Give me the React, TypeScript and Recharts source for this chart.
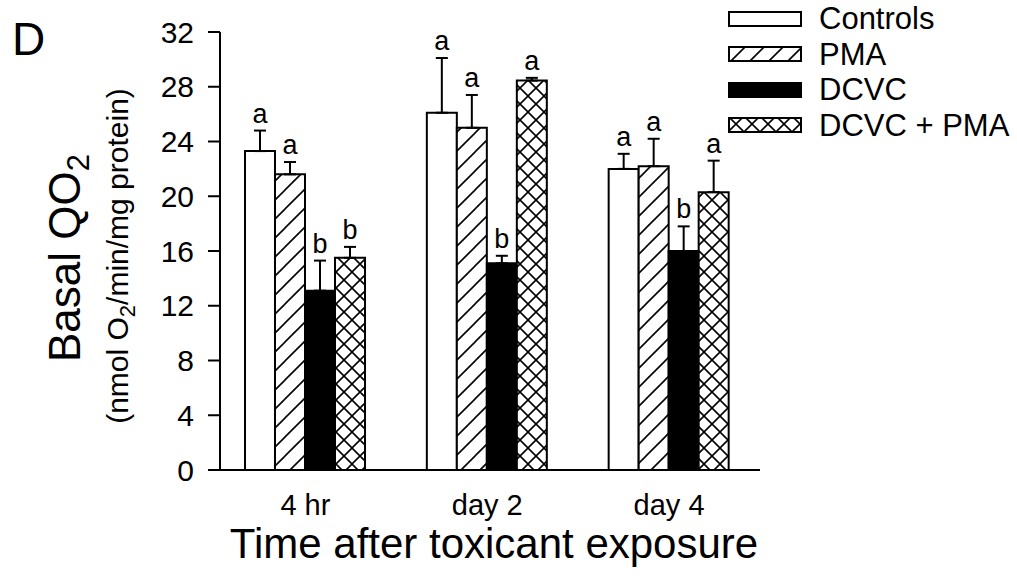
import { BarChart, Bar, XAxis, YAxis, ErrorBar, LabelList, Legend } from 'recharts';

const FONT = '"Liberation Sans", Arial, sans-serif';

const categories = ['4 hr', 'day 2', 'day 4'];
const yTicks = [0, 4, 8, 12, 16, 20, 24, 28, 32];

const controls = [23.3, 26.1, 22.0];
const controlsErr = [1.5, 4.0, 1.1];
const controlsLetters = ['a', 'a', 'a'];

const pma = [21.6, 25.0, 22.2];
const pmaErr = [0.9, 2.4, 2.0];
const pmaLetters = ['a', 'a', 'a'];

const dcvc = [13.1, 15.1, 16.0];
const dcvcErr = [2.2, 0.55, 1.8];
const dcvcLetters = ['b', 'b', 'b'];

const dcvcPma = [15.5, 28.45, 20.3];
const dcvcPmaErr = [0.8, 0.2, 2.3];
const dcvcPmaLetters = ['b', 'a', 'a'];

const series = [
  { key: 'controls', name: 'Controls', fill: '#ffffff', values: controls, errors: controlsErr, letters: controlsLetters },
  { key: 'pma', name: 'PMA', fill: 'url(#hatch)', values: pma, errors: pmaErr, letters: pmaLetters },
  { key: 'dcvc', name: 'DCVC', fill: '#000000', values: dcvc, errors: dcvcErr, letters: dcvcLetters },
  { key: 'dcvcPma', name: 'DCVC + PMA', fill: 'url(#cross)', values: dcvcPma, errors: dcvcPmaErr, letters: dcvcPmaLetters },
];

const data = categories.map((time, i) => {
  const row: Record<string, string | number> = { time };
  series.forEach((s) => {
    row[s.key] = s.values[i];
    row[s.key + 'Err'] = s.errors[i];
  });
  return row;
});

function LegendBox() {
  return (
    <div style={{ fontFamily: FONT, color: '#000' }}>
      {series.map((s) => (
        <div key={s.key} style={{ display: 'flex', alignItems: 'center', height: 35.5 }}>
          <svg width={76} height={18}>
            <rect x={1} y={2} width={72} height={14} fill={s.fill} stroke="#000" strokeWidth={2} />
          </svg>
          <span style={{ marginLeft: 15, fontSize: 31, lineHeight: '35px' }}>{s.name}</span>
        </div>
      ))}
    </div>
  );
}

function YTitle() {
  return (
    <g fontFamily={FONT} fill="#000">
      <text x={12} y={55} fontSize={46}>D</text>
      <text x={80} y={258} fontSize={44} textAnchor="middle" transform="rotate(-90, 80, 258)">
        Basal QO<tspan fontSize={31} dy={9}>2</tspan>
      </text>
      <text x={128} y={256} fontSize={30} textAnchor="middle" transform="rotate(-90, 128, 256)">
        (nmol O<tspan fontSize={22} dy={7}>2</tspan>
        <tspan dy={-7}>/min/mg protein)</tspan>
      </text>
    </g>
  );
}

function XTitle(props: any) {
  const vb = props.viewBox || {};
  return (
    <text x={vb.x + vb.width / 2 + 4} y={vb.y + 88} fontSize={42} fontFamily={FONT} textAnchor="middle" fill="#000">
      Time after toxicant exposure
    </text>
  );
}

function makeLetter(s: (typeof series)[number]) {
  return (props: any) => {
    const vb = props.viewBox || {};
    const x = props.x ?? vb.x;
    const y = props.y ?? vb.y;
    const width = props.width ?? vb.width;
    const height = props.height ?? vb.height;
    const i = props.index;
    const v = s.values[i];
    const errTop = y - (s.errors[i] * height) / v;
    return (
      <text x={x + width / 2} y={errTop - 8} fontSize={27} fontFamily={FONT} textAnchor="middle" fill="#000">
        {s.letters[i]}
      </text>
    );
  };
}

export default function App() {
  return (
    <div style={{ position: 'absolute', left: 0, top: 0, width: 1017, height: 582, background: '#fff' }}>
      <BarChart
        width={1017}
        height={582}
        data={data}
        margin={{ top: 32, right: 257, left: 160, bottom: 72 }}
        barGap={0}
        barCategoryGap={30.5}
      >
        <defs>
          <pattern id="hatch" width={19} height={19} patternUnits="userSpaceOnUse">
            <rect width={19} height={19} fill="#fff" />
            <path d="M0,19 L19,0 M-5,5 L5,-5 M14,24 L24,14" stroke="#000" strokeWidth={1.6} />
          </pattern>
          <pattern id="cross" width={16} height={16} patternUnits="userSpaceOnUse">
            <rect width={16} height={16} fill="#fff" />
            <path d="M0,16 L16,0 M0,0 L16,16 M-4,4 L4,-4 M12,20 L20,12 M-4,12 L4,20 M12,-4 L20,4" stroke="#000" strokeWidth={1.6} />
          </pattern>
        </defs>
        <XAxis
          dataKey="time"
          height={40}
          padding={{ left: -5.5, right: 0 }}
          tickSize={0}
          tickMargin={24}
          axisLine={{ stroke: '#000', strokeWidth: 2 }}
          tick={{ fill: '#000', fontSize: 29, fontFamily: FONT }}
          label={<XTitle />}
        />
        <YAxis
          width={60}
          domain={[0, 32]}
          ticks={yTicks}
          interval={0}
          tickSize={12}
          tickMargin={14}
          axisLine={{ stroke: '#000', strokeWidth: 2 }}
          tickLine={{ stroke: '#000', strokeWidth: 2 }}
          tick={{ fill: '#000', fontSize: 30, fontFamily: FONT }}
          label={<YTitle />}
        />
        <Legend
          layout="vertical"
          align="center"
          verticalAlign="middle"
          content={<LegendBox />}
          wrapperStyle={{ left: 728, top: 1, width: 289, bottom: 'auto', right: 'auto' }}
        />
        {series.map((s) => (
          <Bar key={s.key} dataKey={s.key} name={s.name} fill={s.fill} stroke="#000" strokeWidth={2} isAnimationActive={false}>
            <ErrorBar
              dataKey={(d: any) => [0, d[s.key + 'Err']]}
              direction="y"
              width={6}
              stroke="#000"
              strokeWidth={2}
              isAnimationActive={false}
            />
            <LabelList dataKey={s.key} content={makeLetter(s)} />
          </Bar>
        ))}
      </BarChart>
    </div>
  );
}
